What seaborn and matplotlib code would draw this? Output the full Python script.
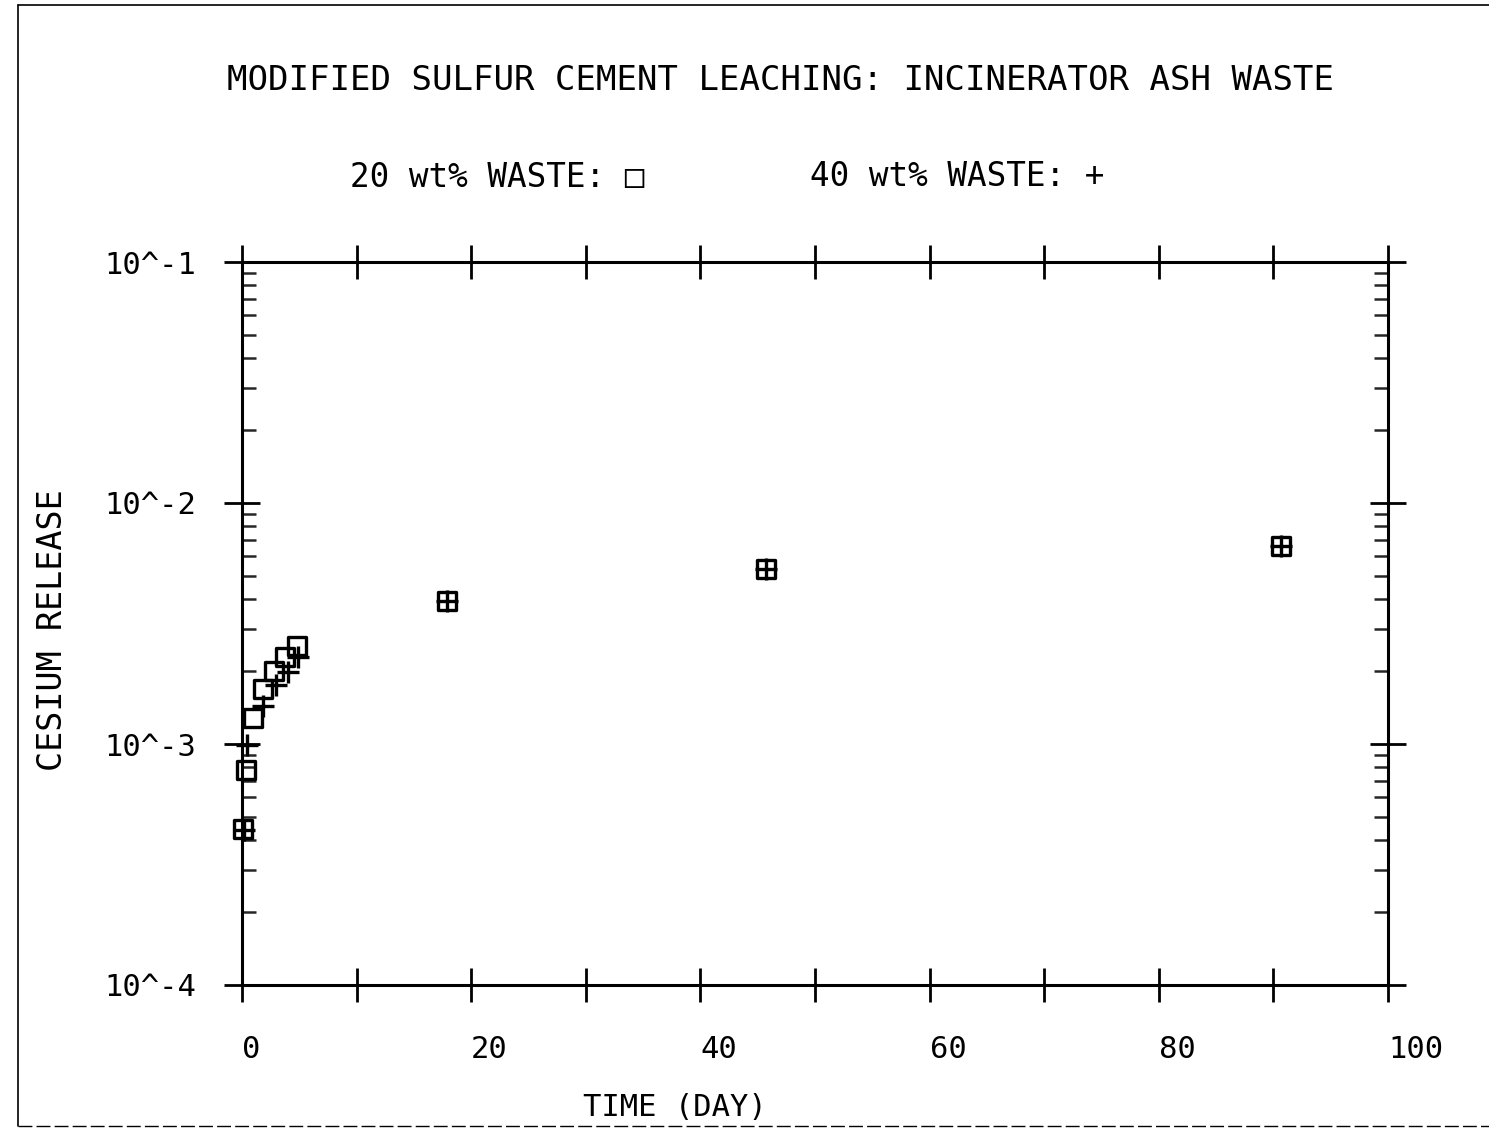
import matplotlib
matplotlib.use("Agg")
import matplotlib.pyplot as plt
import seaborn as sns
import pandas as pd
import numpy as np
from matplotlib.lines import Line2D
from matplotlib.ticker import FixedLocator, LogLocator, NullFormatter

# ---- data ----
days_20 = [0.1, 0.35, 0.95, 1.85, 2.8, 3.75, 4.8, 17.9, 45.7, 90.7]
rel_20 = [4.45e-4, 7.8e-4, 1.28e-3, 1.69e-3, 2.01e-3, 2.30e-3, 2.55e-3, 3.92e-3, 5.32e-3, 6.63e-3]
days_40 = [0.15, 0.45, 1.8, 3.0, 4.0, 4.9, 17.9, 45.7, 90.7]
rel_40 = [4.4e-4, 9.9e-4, 1.44e-3, 1.76e-3, 1.99e-3, 2.30e-3, 3.92e-3, 5.32e-3, 6.63e-3]

x_ticks = [0, 10, 20, 30, 40, 50, 60, 70, 80, 90, 100]
x_labels = ["0", "", "20", "", "40", "", "60", "", "80", "", "100"]
y_ticks = [1e-4, 1e-3, 1e-2, 1e-1]
y_labels = ["10^-4", "10^-3", "10^-2", "10^-1"]

title = "MODIFIED SULFUR CEMENT LEACHING: INCINERATOR ASH WASTE"
legend_20 = "20 wt% WASTE: \u25a1"
legend_40 = "40 wt% WASTE: +"
xlabel = "TIME (DAY)"
ylabel = "CESIUM RELEASE"

df20 = pd.DataFrame({"day": days_20, "release": rel_20})
df40 = pd.DataFrame({"day": days_40, "release": rel_40})

sns.set_theme(style="white")
plt.rcParams["font.family"] = ["DejaVu Sans Mono", "DejaVu Sans"]

fig = plt.figure(figsize=(14.89, 11.29), dpi=100)
ax = fig.add_axes([242 / 1489, 1 - 985 / 1129, (1388 - 242) / 1489, (985 - 262) / 1129])

sns.scatterplot(data=df20, x="day", y="release", ax=ax, marker="s", s=170,
                facecolors="none", edgecolor="black", linewidth=2.4, zorder=3, clip_on=False)
sns.scatterplot(data=df40, x="day", y="release", ax=ax, marker="+", s=230,
                color="black", linewidth=2.4, zorder=4, clip_on=False)

ax.set_yscale("log")
ax.set_xlim(0, 100)
ax.set_ylim(1e-4, 1e-1)

for sp in ax.spines.values():
    sp.set_color("black")
    sp.set_linewidth(2.2)

ax.xaxis.set_major_locator(FixedLocator(x_ticks))
ax.set_xticklabels(x_labels, ha="left")
ax.yaxis.set_major_locator(FixedLocator(y_ticks))
ax.set_yticklabels(y_labels)
ax.yaxis.set_minor_locator(LogLocator(base=10, subs=np.arange(2, 10)))
ax.yaxis.set_minor_formatter(NullFormatter())

ax.tick_params(axis="x", which="major", direction="inout", length=24, width=2,
               top=True, bottom=True, labelsize=22, pad=24, colors="black")
ax.tick_params(axis="y", which="major", direction="inout", length=26, width=2,
               left=True, right=True, labelsize=22, pad=20, colors="black")
ax.tick_params(axis="y", which="minor", direction="in", length=10, width=1.8,
               left=True, right=True)
for lab in ax.get_xticklabels():
    lab.set_horizontalalignment("left")

ax.set_xlabel("")
ax.set_ylabel("")

fig.text(781 / 1489, 1 - 80 / 1129, title, ha="center", va="center", fontsize=24.5, color="black")
fig.text(497 / 1489, 1 - 177 / 1129, legend_20, ha="center", va="center", fontsize=23.5, color="black")
fig.text(957 / 1489, 1 - 177 / 1129, legend_40, ha="center", va="center", fontsize=23.5, color="black")
fig.text(675 / 1489, 1 - 1107 / 1129, xlabel, ha="center", va="center", fontsize=22, color="black")
fig.text(52 / 1489, 1 - 630 / 1129, ylabel, ha="center", va="center", rotation=90, fontsize=24, color="black")

# figure border (scanned page frame)
fig.add_artist(Line2D([18 / 1489, 18 / 1489], [0.003, 0.996], transform=fig.transFigure, color="black", lw=1.2))
fig.add_artist(Line2D([18 / 1489, 1.0], [0.996, 0.996], transform=fig.transFigure, color="black", lw=1.2))
fig.add_artist(Line2D([18 / 1489, 1.0], [0.003, 0.003], transform=fig.transFigure, color="black", lw=1.0, ls=(0, (10, 3))))

fig.savefig("out.png", dpi=100, facecolor="white")
